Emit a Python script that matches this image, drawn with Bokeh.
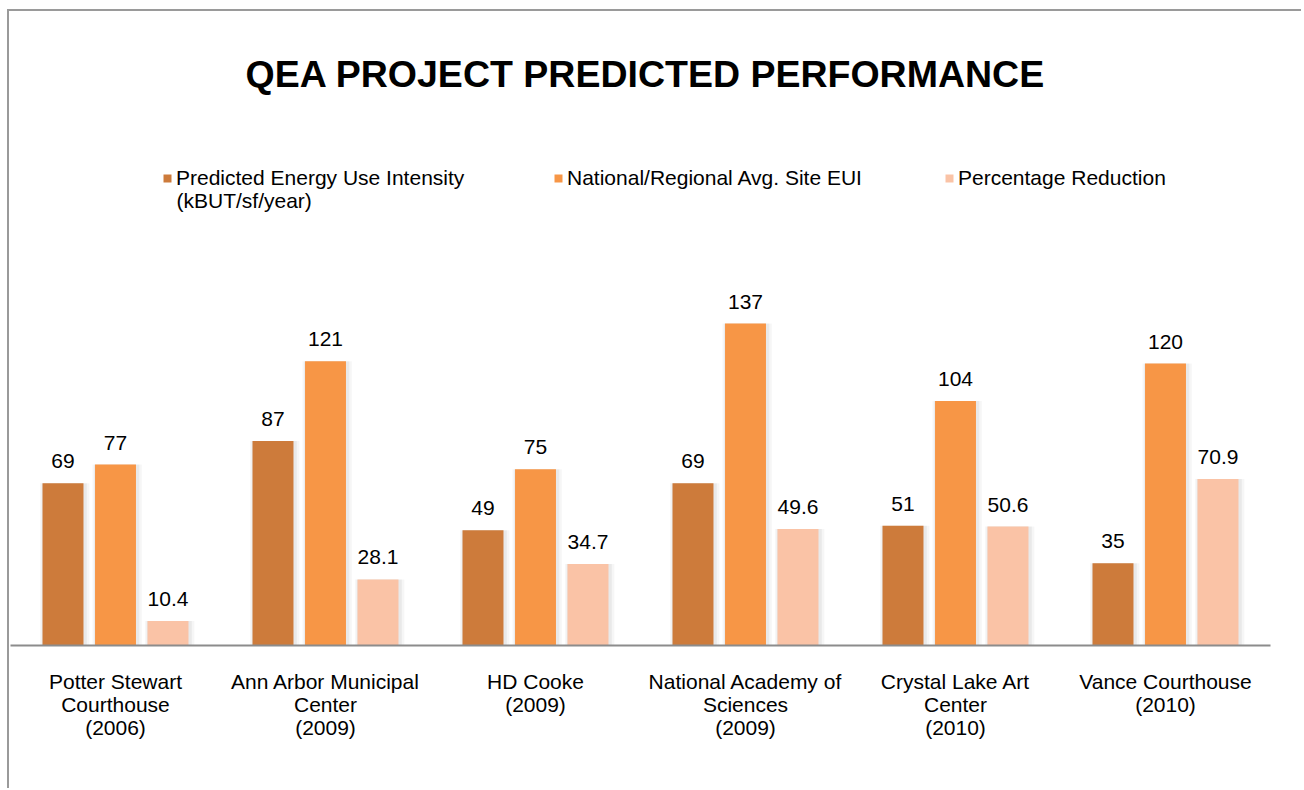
from bokeh.plotting import figure
from bokeh.models import ColumnDataSource, FactorRange, Range1d, Label, Legend, LegendItem
from bokeh.transform import dodge
from bokeh.core.properties import value
from bokeh.embed import file_html
from bokeh.resources import INLINE

categories = [
    "Potter Stewart\nCourthouse\n(2006)",
    "Ann Arbor Municipal\nCenter\n(2009)",
    "HD Cooke\n(2009)",
    "National Academy of\nSciences\n(2009)",
    "Crystal Lake Art\nCenter\n(2010)",
    "Vance Courthouse\n(2010)",
]
predicted_eui = [69, 87, 49, 69, 51, 35]
national_avg_eui = [77, 121, 75, 137, 104, 120]
pct_reduction = [10.4, 28.1, 34.7, 49.6, 50.6, 70.9]

series_names = [
    "Predicted Energy Use Intensity",
    "National/Regional Avg. Site EUI",
    "Percentage Reduction",
]
series_unit = "(kBUT/sf/year)"
colors = ["#CD7B3B", "#F79646", "#FAC3A6"]
title_text = "QEA PROJECT PREDICTED PERFORMANCE"

FONT = "Liberation Sans"

src = ColumnDataSource(dict(
    cats=categories,
    v1=predicted_eui, v2=national_avg_eui, v3=pct_reduction,
    t1=[f"{v:g}" for v in predicted_eui],
    t2=[f"{v:g}" for v in national_avg_eui],
    t3=[f"{v:.1f}" for v in pct_reduction],
))

p = figure(
    x_range=FactorRange(*categories, range_padding=0),
    y_range=Range1d(0, 269.8),
    width=1294, height=779,
    output_backend="svg", toolbar_location=None,
    y_axis_location=None,
    min_border_left=1, min_border_right=33,
    min_border_top=0, min_border_bottom=145,
    outline_line_color=None,
    styles={"border-top": "2px solid #9a9a9a", "border-left": "2px solid #9a9a9a",
            "margin-top": "9px", "margin-left": "7px"},
)
p.xgrid.grid_line_color = None
p.ygrid.grid_line_color = None

offsets = [-0.25, 0.0, 0.25]
cols = ["v1", "v2", "v3"]
tcols = ["t1", "t2", "t3"]
bw = 0.195
renderers = []
for off, c, col in zip(offsets, cols, colors):
    # soft shadow
    p.vbar(x=dodge("cats", off + 0.008, range=p.x_range), top=c, width=bw + 0.04,
           source=src, fill_color="#000000", fill_alpha=0.035, line_color=None)
    p.vbar(x=dodge("cats", off + 0.006, range=p.x_range), top=c, width=bw + 0.02,
           source=src, fill_color="#000000", fill_alpha=0.05, line_color=None)
    r = p.vbar(x=dodge("cats", off, range=p.x_range), top=c, width=bw,
               source=src, fill_color=col, line_color=None)
    renderers.append(r)

for off, c, t in zip(offsets, cols, tcols):
    p.text(x=dodge("cats", off, range=p.x_range), y=c, text=t, source=src,
           text_align="center", text_baseline="middle", y_offset=-22,
           text_font=value(FONT), text_font_size="21px", text_color="#000000")

xa = p.xaxis[0]
xa.axis_line_color = "#8c8c8c"
xa.axis_line_width = 2
xa.major_tick_line_color = None
xa.minor_tick_line_color = None
xa.major_tick_out = 0
xa.major_tick_in = 0
xa.major_label_standoff = 24
xa.major_label_text_font = FONT
xa.major_label_text_font_size = "21px"
xa.major_label_text_color = "#000000"
xa.major_label_text_line_height = 1.0
xa.major_label_orientation = "horizontal"

p.add_layout(Label(x=635, y=572, x_units="screen", y_units="screen",
                   text=title_text, text_align="center", text_baseline="middle",
                   text_font=FONT, text_font_size="37.5px", text_font_style="bold",
                   text_color="#000000"))

legend = Legend(
    items=[LegendItem(label=n, renderers=[r]) for n, r in zip(series_names, renderers)],
    orientation="horizontal",
    location=(152, 455),
    glyph_width=10, glyph_height=10,
    label_standoff=4, label_width=377, spacing=0,
    label_text_font=FONT, label_text_font_size="21px", label_text_color="#000000",
    padding=0, margin=0,
    border_line_color=None, background_fill_alpha=0,
)
p.add_layout(legend)

p.add_layout(Label(x=166, y=445, x_units="screen", y_units="screen",
                   text=series_unit, text_align="left", text_baseline="middle",
                   text_font=FONT, text_font_size="21px", text_color="#000000"))

open("out.html", "w").write(file_html(p, INLINE))
